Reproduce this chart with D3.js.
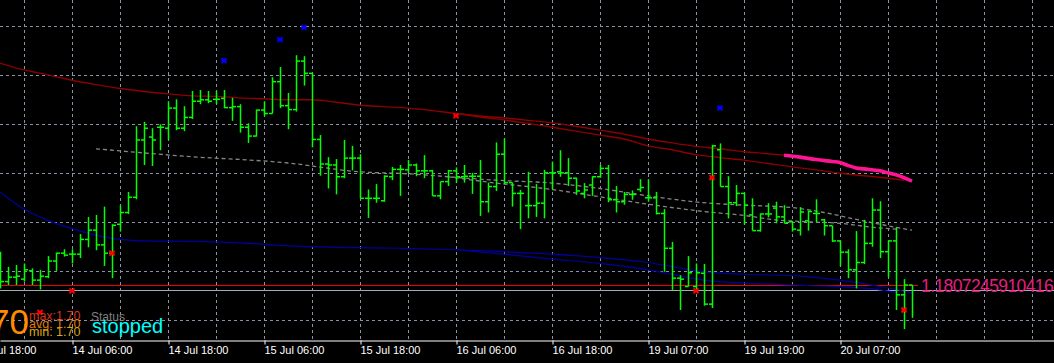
<!DOCTYPE html>
<html>
<head>
<meta charset="utf-8">
<script src="https://cdn.jsdelivr.net/npm/d3@7"></script>
<style>
  html, body { margin: 0; padding: 0; background: #000; overflow: hidden; }
</style>
</head>
<body>
<svg id="chart" width="1054" height="363"></svg>
<script>
// EURUSD H1 style chart, black MT4-like look

// OHLC per hourly bar (bar 0 = 13 Jul 21:00)
const opens = [1.18107,1.18079,1.18088,1.18084,1.18101,1.18082,1.18089,1.18121,1.18137,1.18135,
  1.18135,1.18165,1.18184,1.18154,1.18137,1.18196,1.18220,1.18251,1.18368,1.18374,
  1.18394,1.18392,1.18433,1.18392,1.18414,1.18447,1.18450,1.18451,1.18453,1.18434,
  1.18436,1.18394,1.18376,1.18429,1.18422,1.18487,1.18438,1.18430,1.18529,1.18504,
  1.18369,1.18319,1.18317,1.18293,1.18331,1.18331,1.18249,1.18249,1.18244,1.18293,
  1.18308,1.18307,1.18317,1.18305,1.18305,1.18254,1.18283,1.18305,1.18293,1.18294,
  1.18294,1.18242,1.18273,1.18339,1.18281,1.18259,1.18234,1.18234,1.18239,1.18301,
  1.18303,1.18301,1.18290,1.18259,1.18276,1.18293,1.18310,1.18246,1.18242,1.18257,
  1.18267,1.18250,1.18250,1.18218,1.18147,1.18086,1.18069,1.18069,1.18096,1.18033,
  1.18348,1.18273,1.18240,1.18259,1.18215,1.18183,1.18217,1.18229,1.18211,1.18201,
  1.18184,1.18203,1.18218,1.18205,1.18193,1.18162,1.18139,1.18103,1.18118,1.18157,
  1.18225,1.18140,1.18162,1.18052,1.18072];
const highs = [1.18140,1.18109,1.18113,1.18116,1.18106,1.18103,1.18131,1.18138,1.18145,1.18145,
  1.18176,1.18211,1.18215,1.18232,1.18196,1.18235,1.18262,1.18396,1.18405,1.18392,
  1.18400,1.18447,1.18451,1.18437,1.18468,1.18470,1.18468,1.18468,1.18470,1.18454,
  1.18441,1.18402,1.18430,1.18447,1.18496,1.18517,1.18464,1.18541,1.18539,1.18504,
  1.18378,1.18333,1.18329,1.18368,1.18356,1.18339,1.18267,1.18278,1.18296,1.18313,
  1.18317,1.18327,1.18320,1.18337,1.18307,1.18283,1.18307,1.18312,1.18317,1.18301,
  1.18327,1.18281,1.18363,1.18371,1.18281,1.18266,1.18303,1.18278,1.18307,1.18324,
  1.18347,1.18331,1.18291,1.18280,1.18294,1.18317,1.18317,1.18274,1.18262,1.18265,
  1.18288,1.18288,1.18262,1.18227,1.18160,1.18092,1.18131,1.18116,1.18115,1.18358,
  1.18361,1.18294,1.18276,1.18260,1.18249,1.18218,1.18239,1.18242,1.18235,1.18203,
  1.18231,1.18224,1.18247,1.18207,1.18193,1.18162,1.18145,1.18182,1.18205,1.18249,
  1.18243,1.18162,1.18190,1.18084,1.18072];
const lows = [1.18065,1.18072,1.18072,1.18079,1.18072,1.18063,1.18086,1.18101,1.18130,1.18116,
  1.18127,1.18149,1.18143,1.18111,1.18086,1.18181,1.18217,1.18247,1.18317,1.18315,
  1.18347,1.18368,1.18388,1.18386,1.18411,1.18441,1.18443,1.18441,1.18433,1.18407,
  1.18383,1.18362,1.18375,1.18417,1.18422,1.18433,1.18390,1.18426,1.18479,1.18353,
  1.18295,1.18269,1.18257,1.18290,1.18306,1.18249,1.18209,1.18240,1.18242,1.18286,
  1.18254,1.18300,1.18294,1.18290,1.18254,1.18247,1.18274,1.18280,1.18281,1.18258,
  1.18213,1.18220,1.18264,1.18278,1.18232,1.18186,1.18208,1.18211,1.18208,1.18267,
  1.18293,1.18274,1.18256,1.18249,1.18254,1.18291,1.18241,1.18220,1.18236,1.18246,
  1.18262,1.18242,1.18216,1.18099,1.18062,1.18021,1.18069,1.18062,1.18030,1.18025,
  1.18273,1.18208,1.18233,1.18195,1.18183,1.18181,1.18210,1.18198,1.18198,1.18181,
  1.18173,1.18183,1.18200,1.18173,1.18160,1.18111,1.18086,1.18065,1.18115,1.18150,
  1.18127,1.18088,1.18021,1.17982,1.18005];
const closes = [1.18079,1.18088,1.18090,1.18103,1.18082,1.18090,1.18121,1.18137,1.18133,1.18135,
  1.18165,1.18184,1.18154,1.18137,1.18194,1.18220,1.18251,1.18368,1.18392,1.18368,
  1.18394,1.18433,1.18392,1.18414,1.18447,1.18450,1.18447,1.18451,1.18434,1.18436,
  1.18394,1.18376,1.18429,1.18422,1.18487,1.18438,1.18430,1.18529,1.18504,1.18369,
  1.18319,1.18317,1.18293,1.18331,1.18331,1.18249,1.18249,1.18249,1.18294,1.18308,
  1.18308,1.18317,1.18305,1.18305,1.18254,1.18283,1.18305,1.18293,1.18294,1.18294,
  1.18242,1.18273,1.18339,1.18281,1.18259,1.18259,1.18234,1.18239,1.18301,1.18301,
  1.18301,1.18290,1.18264,1.18266,1.18293,1.18310,1.18246,1.18242,1.18257,1.18257,
  1.18271,1.18250,1.18218,1.18147,1.18086,1.18084,1.18097,1.18097,1.18033,1.18356,
  1.18273,1.18240,1.18259,1.18235,1.18183,1.18217,1.18217,1.18211,1.18198,1.18186,
  1.18221,1.18222,1.18218,1.18193,1.18162,1.18139,1.18103,1.18118,1.18157,1.18225,
  1.18140,1.18162,1.18052,1.18072,1.18072];

// indicator lines: [bar index, price]
const maRedUpper = [[0,1.18525],[3,1.18511],[6,1.18501],[9,1.18490],[12,1.18481],[15,1.18473],
  [18,1.18467],[21,1.18462],[24,1.18458],[27,1.18457],[30,1.18454],[33,1.18452],[36,1.18450],
  [39,1.18450],[42,1.18445],[45,1.18439],[48,1.18436],[51,1.18433],[54,1.18428],[57,1.18422],
  [60,1.18417],[63,1.18413],[66,1.18408],[69,1.18403],[72,1.18396],[75,1.18388],[78,1.18380],
  [81,1.18370],[84,1.18362],[87,1.18355],[90,1.18350],[93,1.18344],[96,1.18340],[98,1.18337]];
const maRedLower = [[57,1.18422],[60,1.18415],[63,1.18409],[66,1.18402],[69,1.18394],[72,1.18386],
  [75,1.18378],[78,1.18370],[81,1.18356],[84,1.18348],[87,1.18338],[90,1.18332],[93,1.18327],
  [96,1.18320],[99,1.18313],[102,1.18307],[105,1.18300],[108,1.18295],[111,1.18290],[113,1.18286]];
const pinkLine = [[98,1.18337],[100,1.18333],[102,1.18328],[104,1.18324],[105,1.18322],[106,1.18316],
  [107,1.18311],[108,1.18309],[110,1.18305],[111,1.18301],[112,1.18297],[113,1.18291],[114,1.18284]];
const greyUpper = [[12,1.18350],[23,1.18335],[36,1.18321],[45,1.18303],[51,1.18299],
  [56,1.18293],[62,1.18286],[69,1.18280],[75,1.18269],[81,1.18254],[88,1.18240],[93,1.18235],
  [99,1.18230],[103,1.18220],[107,1.18206],[110,1.18196],[114,1.18184]];
const greyLower = [[56,1.18293],[62,1.18280],[69,1.18267],[75,1.18252],[81,1.18237],[88,1.18222],
  [93,1.18214],[97,1.18205],[101,1.18201],[105,1.18198],[109,1.18190],[112,1.18186]];
const blueUpper = [[0,1.18262],[3,1.18227],[6,1.18204],[9,1.18187],[12,1.18174],[15,1.18165],
  [18,1.18162],[24,1.18161],[30,1.18158],[36,1.18152],[42,1.18149],[50,1.18147],[57,1.18144],
  [63,1.18140],[69,1.18135],[75,1.18128],[81,1.18118],[88,1.18099],[93,1.18094],[100,1.18090],
  [105,1.18082],[110,1.18069],[114,1.18056]];
const blueLower = [[57,1.18144],[63,1.18135],[69,1.18125],[75,1.18116],[81,1.18103],[88,1.18082],
  [93,1.18076],[101,1.18071],[109,1.18064],[112,1.18057]];

// arrows: [bar index, price]
const blueMarks = [[28,1.18530],[35,1.18573],[38,1.18598],[90,1.18433]];
const redMarks = [[5,1.18016],[9,1.18060],[14,1.18137],[57,1.18417],[87,1.18060],[89,1.18291],[113,1.18021]];

const levelPrice = 1.18072459104165;
const bidPrice = 1.18061;

const gridPrices = [1.180, 1.181, 1.182, 1.183, 1.184, 1.185, 1.186];
const tickBars = [-3, 9, 21, 33, 45, 57, 69, 81, 93, 105];
const tickLabels = ["13 Jul 18:00","14 Jul 06:00","14 Jul 18:00","15 Jul 06:00","15 Jul 18:00",
  "16 Jul 06:00","16 Jul 18:00","19 Jul 07:00","19 Jul 19:00","20 Jul 07:00"];

const W = 1054, AXIS_Y = 340;
const svg = d3.select("#chart");
svg.append("rect").attr("width", W).attr("height", 363).attr("fill", "#000");

const x = d3.scaleLinear().domain([0, W / 8]).range([0, W]);
const y = d3.scaleLinear().domain([1.181, 1.186]).range([271.3, 26.3]);

// grid
const grid = svg.append("g").attr("stroke", "#8893a7").attr("stroke-dasharray", "3,3");
const gridBars = d3.range(3, W / 8, 6);
grid.selectAll("line.v").data(gridBars).join("line")
  .attr("x1", d => Math.round(x(d)) + 0.5).attr("x2", d => Math.round(x(d)) + 0.5)
  .attr("y1", 0).attr("y2", AXIS_Y);
grid.selectAll("line.h").data(gridPrices).join("line")
  .attr("x1", 0).attr("x2", W)
  .attr("y1", d => Math.round(y(d)) + 0.5).attr("y2", d => Math.round(y(d)) + 0.5);

// horizontal levels
svg.append("line").attr("x1", 0).attr("x2", W)
  .attr("y1", Math.round(y(bidPrice)) + 0.5).attr("y2", Math.round(y(bidPrice)) + 0.5)
  .attr("stroke", "#a3acbb").attr("stroke-width", 1);
svg.append("line").attr("x1", 0).attr("x2", 918)
  .attr("y1", Math.round(y(levelPrice)) + 0.5).attr("y2", Math.round(y(levelPrice)) + 0.5)
  .attr("stroke", "#ee0000").attr("stroke-width", 1);

// indicator lines
const line = d3.line().x(d => x(d[0])).y(d => y(d[1])).curve(d3.curveMonotoneX);
function drawLine(data, color, width, dash) {
  svg.append("path").datum(data).attr("d", line)
    .attr("fill", "none").attr("stroke", color).attr("stroke-width", width)
    .attr("stroke-dasharray", dash || null);
}
drawLine(blueUpper, "#0000a0", 1.2);
drawLine(blueLower, "#0000a0", 1.2);
drawLine(greyUpper, "#858585", 1.3, "4,3");
drawLine(greyLower, "#858585", 1.3, "4,3");
drawLine(maRedUpper, "#8b0000", 1.4);
drawLine(maRedLower, "#8b0000", 1.4);

// OHLC bars
const bars = svg.append("g").attr("stroke", "#00ff00").attr("stroke-width", 1.5);
opens.forEach((o, i) => {
  const cx = Math.round(x(i)) + 0.5;
  bars.append("line").attr("x1", cx).attr("x2", cx)
    .attr("y1", y(highs[i])).attr("y2", y(lows[i]));
  bars.append("line").attr("x1", cx - 3.5).attr("x2", cx)
    .attr("y1", y(o)).attr("y2", y(o));
  if (i < opens.length - 1) {
    bars.append("line").attr("x1", cx).attr("x2", cx + 3.5)
      .attr("y1", y(closes[i])).attr("y2", y(closes[i]));
  }
});

drawLine(pinkLine, "#ff1493", 3.6);

// markers
function drawMarks(data, color) {
  svg.append("g").selectAll("path").data(data).join("path")
    .attr("transform", d => `translate(${x(d[0])},${y(d[1])})`)
    .attr("d", "M-2.5,-2.5L2.5,2.5M-2.5,2.5L2.5,-2.5M-2.5,0H2.5")
    .attr("stroke", color).attr("stroke-width", 1.8).attr("fill", "none");
}
drawMarks(blueMarks, "#0000ff");
drawMarks(redMarks, "#ff0000");

// level label
svg.append("text").attr("x", 921).attr("y", y(levelPrice) + 7)
  .attr("fill", "#e0207f").style("font", "17.5px 'Liberation Sans', Arial, sans-serif")
  .style("letter-spacing", "-0.6px")
  .text(String(levelPrice));

// info texts bottom-left
svg.append("text").attr("x", 29).attr("y", 334).attr("text-anchor", "end")
  .attr("fill", "#ff8c00").style("font", "35px 'Liberation Sans', Arial, sans-serif").text("1.70");
const info = [["max:1.70", "#d2361a", 319.5], ["avg: 1.70", "#e07a10", 327.5], ["min: 1.70", "#d8a810", 335.5]];
svg.selectAll("text.info").data(info).join("text")
  .attr("x", 29).attr("y", d => d[2]).attr("fill", d => d[1])
  .style("font", "12.5px 'Liberation Sans', Arial, sans-serif").text(d => d[0]);
svg.append("text").attr("x", 91).attr("y", 320.5).attr("fill", "#808080")
  .style("font", "12px 'Liberation Sans', Arial, sans-serif").text("Status");
svg.append("text").attr("x", 92).attr("y", 333).attr("fill", "#00ffff")
  .style("font", "20px 'Liberation Sans', Arial, sans-serif").text("stopped");

// time axis
const axis = d3.axisBottom(x).tickValues(tickBars)
  .tickFormat((d, i) => tickLabels[i]).tickSize(4).tickSizeOuter(0);
const ax = svg.append("g").attr("transform", `translate(0,${AXIS_Y + 0.5})`).call(axis);
ax.select(".domain").attr("stroke", "#ffffff");
ax.selectAll(".tick line").attr("stroke", "#ffffff")
  .attr("transform", "translate(0.5,0)");
ax.selectAll(".tick text").attr("fill", "#ffffff").attr("text-anchor", "start")
  .attr("x", 0).attr("y", 6).attr("dy", "0.71em")
  .style("font", "11px 'Liberation Sans', Arial, sans-serif");
</script>
</body>
</html>
